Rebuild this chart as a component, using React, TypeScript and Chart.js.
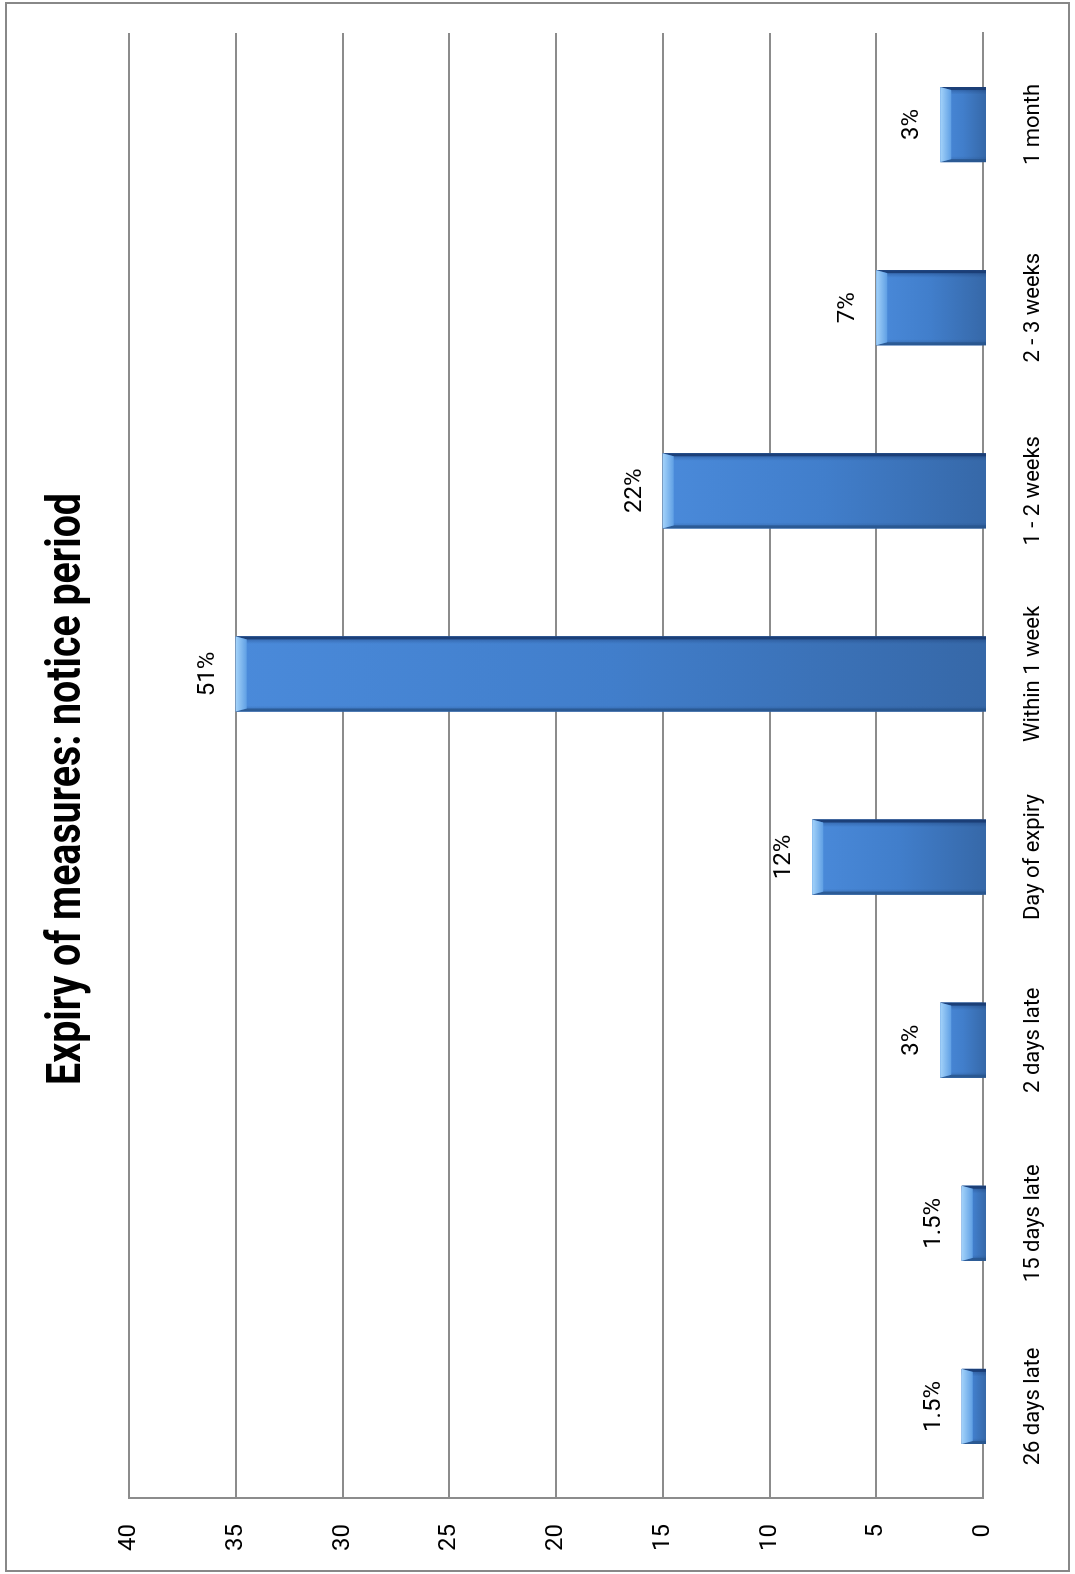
import { useEffect, useRef } from 'react';
import { Chart, registerables } from 'chart.js';

Chart.register(...registerables);

const titleText = 'Expiry of measures: notice period';
const categories = [
  '26 days late',
  '15 days late',
  '2 days late',
  'Day of expiry',
  'Within 1 week',
  '1 - 2 weeks',
  '2 - 3 weeks',
  '1 month',
];
const counts = [1, 1, 2, 8, 35, 15, 5, 2];
const percentLabels = ['1.5%', '1.5%', '3%', '12%', '51%', '22%', '7%', '3%'];
const axisMin = 0;
const axisMax = 40;
const axisStep = 5;

const W = 1574;
const H = 1075;
const GRID = '#8C8C8C';

const framePlugin = {
  id: 'frame',
  beforeDraw(chart: any) {
    const ctx = chart.ctx;
    ctx.save();
    ctx.fillStyle = '#ffffff';
    ctx.fillRect(0, 0, chart.width, chart.height);
    ctx.strokeStyle = '#888888';
    ctx.lineWidth = 2;
    ctx.strokeRect(3, 6, chart.width - 6, chart.height - 12);
    ctx.restore();
  },
};

const titlePlugin = {
  id: 'condensedTitle',
  afterDraw(chart: any) {
    const ctx = chart.ctx;
    ctx.save();
    ctx.font = 'bold 48px Roboto';
    ctx.fillStyle = '#000000';
    ctx.textAlign = 'center';
    ctx.textBaseline = 'alphabetic';
    const w = ctx.measureText(titleText).width;
    const target = 592;
    const sx = target / w;
    ctx.translate(785, 80);
    ctx.scale(sx, 1);
    ctx.fillText(titleText, 0, 0);
    ctx.restore();
  },
};

const bevelPlugin = {
  id: 'bevelBars',
  afterDatasetsDraw(chart: any) {
    const ctx = chart.ctx;
    const meta = chart.getDatasetMeta(0);
    ctx.save();
    meta.data.forEach((bar: any, i: number) => {
      const p = bar.getProps(['x', 'y', 'base', 'width'], true);
      const l = p.x - p.width / 2;
      const r = p.x + p.width / 2;
      const t = p.y;
      const b = p.base + 4;
      const h = b - t;
      const bev = Math.min(11, h / 2);
      const side = 3;

      // body
      const g = ctx.createLinearGradient(0, t, 0, b);
      g.addColorStop(0, '#4A8ADA');
      g.addColorStop(0.5, '#417ECB');
      g.addColorStop(1, '#3668A8');
      ctx.fillStyle = g;
      ctx.fillRect(l, t, p.width, h);

      // cross shading
      const g2 = ctx.createLinearGradient(l, 0, r, 0);
      g2.addColorStop(0, 'rgba(25,60,110,0.35)');
      g2.addColorStop(0.08, 'rgba(25,60,110,0.0)');
      g2.addColorStop(0.9, 'rgba(15,40,90,0.0)');
      g2.addColorStop(1, 'rgba(15,40,90,0.45)');
      ctx.fillStyle = g2;
      ctx.fillRect(l, t, p.width, h);

      // left bevel
      ctx.beginPath();
      ctx.moveTo(l, t);
      ctx.lineTo(l + side, t + bev);
      ctx.lineTo(l + side, b);
      ctx.lineTo(l, b);
      ctx.closePath();
      ctx.fillStyle = 'rgba(40,85,140,0.8)';
      ctx.fill();

      // right bevel
      ctx.beginPath();
      ctx.moveTo(r, t);
      ctx.lineTo(r - side, t + bev);
      ctx.lineTo(r - side, b);
      ctx.lineTo(r, b);
      ctx.closePath();
      ctx.fillStyle = 'rgba(25,60,115,0.9)';
      ctx.fill();

      // top light bevel
      ctx.beginPath();
      ctx.moveTo(l, t);
      ctx.lineTo(r, t);
      ctx.lineTo(r - side, t + bev);
      ctx.lineTo(l + side, t + bev);
      ctx.closePath();
      const g3 = ctx.createLinearGradient(0, t, 0, t + bev);
      g3.addColorStop(0, '#A4D3FA');
      g3.addColorStop(1, '#5F9FE4');
      ctx.fillStyle = g3;
      ctx.fill();

      // data label
      ctx.fillStyle = '#000000';
      ctx.font = '24px Roboto';
      ctx.textAlign = 'center';
      ctx.textBaseline = 'middle';
      ctx.fillText(percentLabels[i], p.x, t - 28);
    });
    ctx.restore();
  },
};

export default function App() {
  const canvasRef = useRef<HTMLCanvasElement | null>(null);

  useEffect(() => {
    let chart: Chart | null = null;
    let cancelled = false;
    const make = () => {
      if (cancelled || !canvasRef.current) return;
      chart = new Chart(canvasRef.current, {
        type: 'bar',
        data: {
          labels: categories,
          datasets: [
            {
              data: counts,
              backgroundColor: '#417ECB',
              borderWidth: 0,
              barPercentage: 0.41,
              categoryPercentage: 1.0,
            },
          ],
        },
        options: {
          responsive: false,
          animation: false,
          devicePixelRatio: 1,
          layout: { padding: { top: 129, right: 33, left: 0, bottom: 0 } },
          plugins: {
            legend: { display: false },
            title: { display: false },
            tooltip: { enabled: false },
          },
          scales: {
            x: {
              type: 'category',
              offset: true,
              z: 1,
              grid: { display: false, drawTicks: false },
              border: { display: true, color: GRID, width: 2 },
              ticks: {
                color: '#000000',
                font: { family: 'Roboto', size: 22 },
                padding: 37,
                maxRotation: 0,
                minRotation: 0,
                autoSkip: false,
              },
              afterFit: (s: any) => {
                s.height = 92;
              },
            },
            y: {
              min: axisMin,
              max: axisMax,
              ticks: {
                stepSize: axisStep,
                color: '#000000',
                font: { family: 'Roboto', size: 24 },
                padding: 26,
              },
              grid: { color: GRID, lineWidth: 2, drawTicks: false },
              border: { display: true, color: GRID, width: 2 },
              afterFit: (s: any) => {
                s.width = 76;
              },
            },
          },
        } as any,
        plugins: [framePlugin, bevelPlugin, titlePlugin],
      });
    };
    const fontsAny: any = (document as any).fonts;
    if (fontsAny && fontsAny.load) {
      Promise.all([
        fontsAny.load('24px Roboto'),
        fontsAny.load('bold 48px Roboto'),
      ])
        .catch(() => null)
        .then(make);
    } else {
      make();
    }
    return () => {
      cancelled = true;
      if (chart) chart.destroy();
    };
  }, []);

  return (
    <div
      style={{
        position: 'absolute',
        left: 0,
        top: 0,
        width: 1075,
        height: 1574,
        overflow: 'hidden',
        background: '#ffffff',
      }}
    >
      <div
        style={{
          position: 'absolute',
          left: 0,
          top: 0,
          width: W,
          height: H,
          transformOrigin: '0 0',
          transform: `translateY(${W}px) rotate(-90deg)`,
        }}
      >
        <canvas
          ref={canvasRef}
          width={W}
          height={H}
          style={{ display: 'block', width: W, height: H }}
        />
      </div>
    </div>
  );
}
